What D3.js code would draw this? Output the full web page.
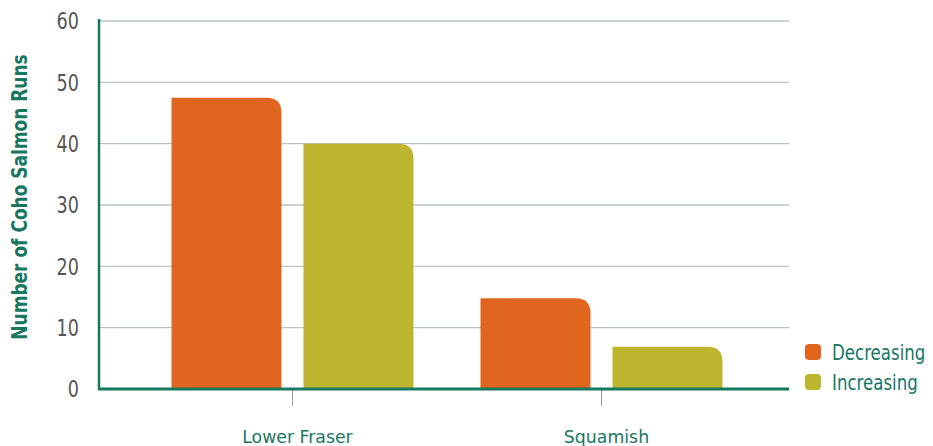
<!DOCTYPE html>
<html>
<head>
  <meta charset="utf-8">
  <title>Coho Salmon Runs</title>
  <script src="https://cdnjs.cloudflare.com/ajax/libs/d3/7.8.5/d3.min.js"></script>
  <style>
    html, body { margin: 0; padding: 0; background: #fff; }
    svg text { font-family: "Liberation Sans Narrow", "DejaVu Sans Condensed", sans-serif; }
  </style>
</head>
<body>
  <svg id="chart" width="933" height="446"></svg>
  <script>
    // data
    let categories = ['Lower Fraser', 'Squamish']
    let series = ['Decreasing', 'Increasing']
    let decreasing = [47.5, 14.8]
    let increasing = [40, 6.9]
    let yTicks = [0, 10, 20, 30, 40, 50, 60]

    let colors = { Decreasing: '#e0661f', Increasing: '#bdb52e' }
    let green = '#17775f'

    let svg = d3.select('#chart')

    let y = d3.scaleLinear().domain([0, 60]).range([389, 21])

    let x0 = d3.scaleBand()
      .domain(categories)
      .range([138, 756])
      .paddingInner(0.217)
      .paddingOuter(0.1085)

    let x1 = d3.scaleBand()
      .domain(series)
      .range([0, x0.bandwidth()])
      .paddingInner(0.1667)

    let rows = categories.map((c, i) => ({
      cat: c,
      values: [
        { key: 'Decreasing', value: decreasing[i] },
        { key: 'Increasing', value: increasing[i] }
      ]
    }))

    // squeeze the text, the original uses a narrow face
    const condense = (sel, k) => {
      sel.each(function () {
        let w = this.getComputedTextLength()
        d3.select(this).attr('textLength', w * k).attr('lengthAdjust', 'spacingAndGlyphs')
      })
    }

    // grid
    svg.append('g')
      .selectAll('line')
      .data(yTicks.filter(d => d > 0))
      .join('line')
      .attr('x1', 100)
      .attr('x2', 789)
      .attr('y1', d => y(d))
      .attr('y2', d => y(d))
      .attr('stroke', '#b9c4c0')
      .attr('stroke-width', 1.3)

    // y tick labels
    svg.append('g')
      .selectAll('text')
      .data(yTicks)
      .join('text')
      .attr('x', 79)
      .attr('y', d => y(d))
      .attr('dy', '0.36em')
      .attr('text-anchor', 'end')
      .attr('font-size', 23)
      .attr('fill', '#555')
      .text(d => d)
      .call(condense, 0.85)

    // category ticks
    svg.append('g')
      .selectAll('line')
      .data(categories)
      .join('line')
      .attr('x1', d => x0(d) + x0.bandwidth() / 2)
      .attr('x2', d => x0(d) + x0.bandwidth() / 2)
      .attr('y1', 390)
      .attr('y2', 406)
      .attr('stroke', '#999')
      .attr('stroke-width', 1)

    // bars, rounded only top-right corner
    const r = 15
    const barPath = (x, w, top, bottom) => {
      let rr = Math.min(r, bottom - top, w)
      return `M${x},${bottom}V${top}H${x + w - rr}Q${x + w},${top} ${x + w},${top + rr}V${bottom}Z`
    }

    svg.append('g')
      .selectAll('g')
      .data(rows)
      .join('g')
      .attr('transform', d => `translate(${x0(d.cat)},0)`)
      .selectAll('path')
      .data(d => d.values)
      .join('path')
      .attr('d', d => barPath(x1(d.key), x1.bandwidth(), y(d.value), y(0)))
      .attr('fill', d => colors[d.key])

    // axes lines
    svg.append('line')
      .attr('x1', 99).attr('x2', 99)
      .attr('y1', 19).attr('y2', 390)
      .attr('stroke', green).attr('stroke-width', 2.5)

    svg.append('line')
      .attr('x1', 98).attr('x2', 789)
      .attr('y1', 389).attr('y2', 389)
      .attr('stroke', green).attr('stroke-width', 3)

    // category labels
    svg.append('g')
      .selectAll('text')
      .data(categories)
      .join('text')
      .attr('x', d => x0(d) + x0.bandwidth() / 2 + 5)
      .attr('y', 443)
      .attr('text-anchor', 'middle')
      .attr('font-size', 18.5)
      .attr('fill', green)
      .text(d => d)
      .call(condense, 1.04)

    // y axis title
    svg.append('text')
      .attr('transform', 'translate(27,197) rotate(-90)')
      .attr('text-anchor', 'middle')
      .attr('font-size', 21)
      .attr('font-weight', 'bold')
      .attr('fill', green)
      .text('Number of Coho Salmon Runs')
      .call(condense, 0.9)

    // legend
    let legend = svg.append('g')
      .selectAll('g')
      .data(series)
      .join('g')
      .attr('transform', (d, i) => `translate(805,${344 + i * 30})`)

    legend.append('rect')
      .attr('width', 16)
      .attr('height', 16)
      .attr('rx', 4)
      .attr('fill', d => colors[d])

    legend.append('text')
      .attr('transform', 'translate(27,8) scale(0.86,1)')
      .attr('dy', '0.36em')
      .attr('font-size', 21.5)
      .attr('fill', green)
      .text(d => d)
  </script>
</body>
</html>
